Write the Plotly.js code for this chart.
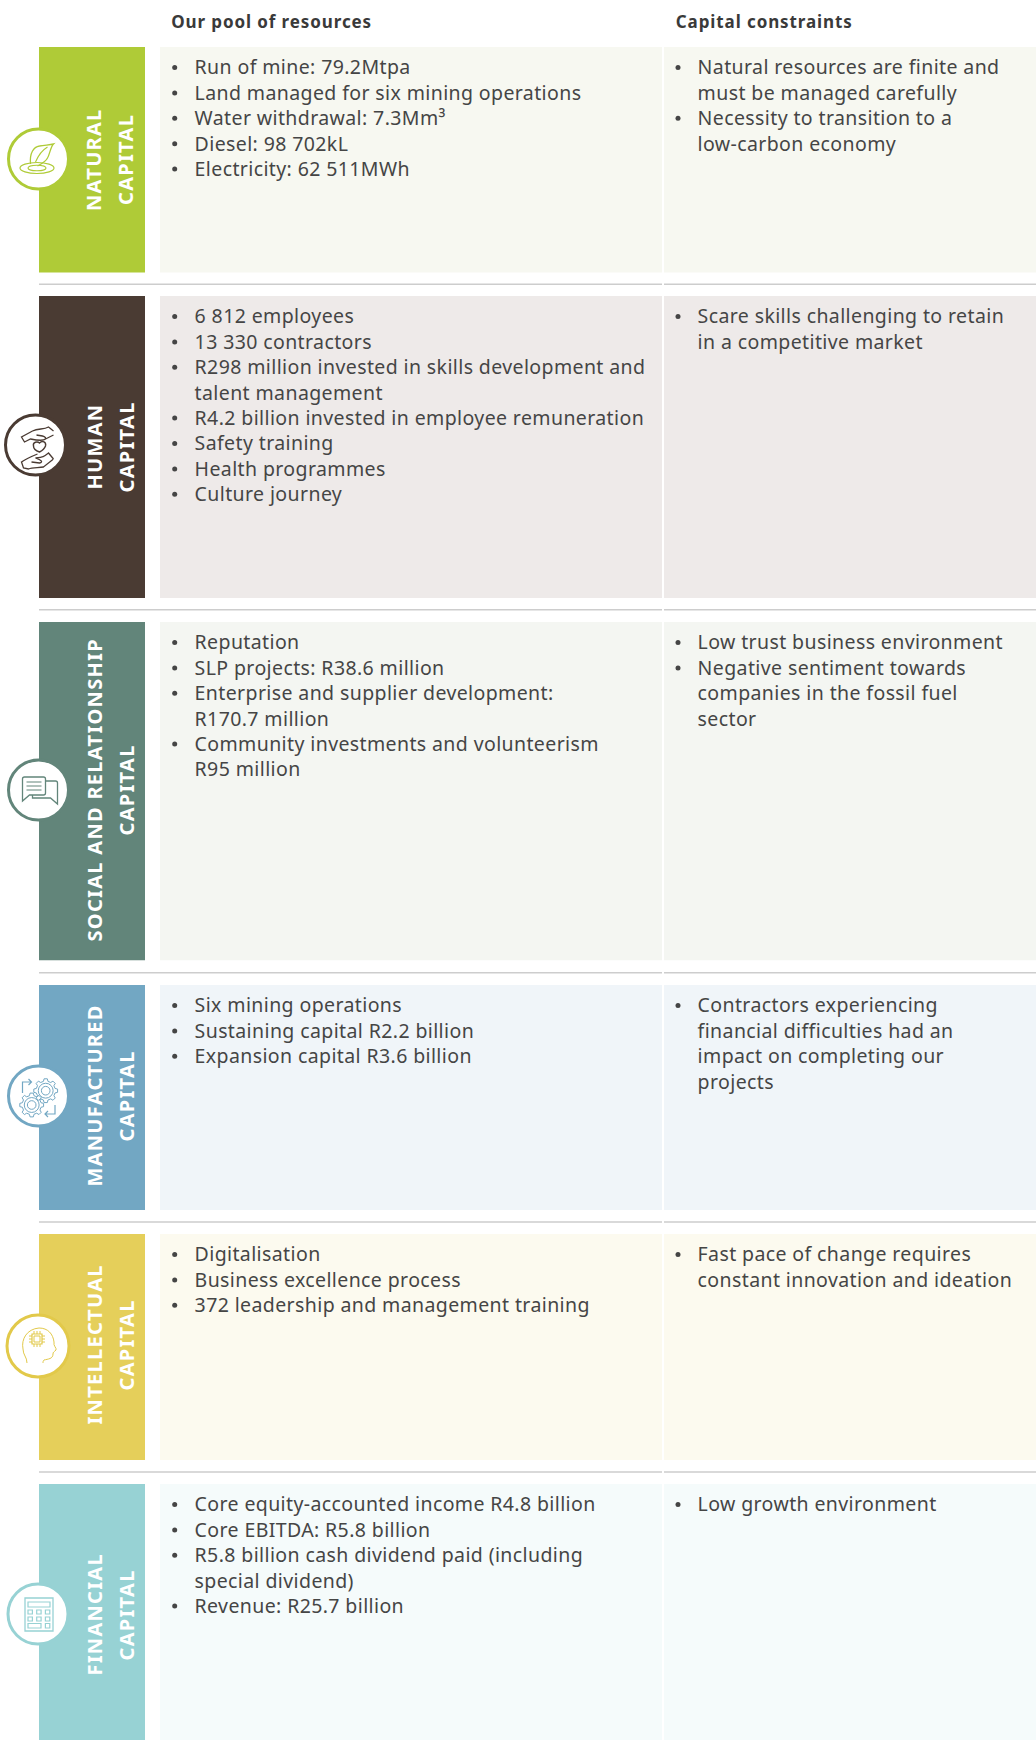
<!DOCTYPE html>
<html><head><meta charset="utf-8">
<script src="https://cdn.plot.ly/plotly-3.0.1.min.js"></script>
<style>
html,body{margin:0;padding:0;background:#fff;overflow:hidden}
#chart{width:1036px;height:1740px}
.textpoint text{letter-spacing:0.39px}
.annotation-text{letter-spacing:1.3px}
.annotation[data-index="0"] .annotation-text,.annotation[data-index="1"] .annotation-text{letter-spacing:0.9px}
</style></head><body><div id="chart"></div>
<script>
const capitalNames = ["NATURAL","HUMAN","SOCIAL AND RELATIONSHIP","MANUFACTURED","INTELLECTUAL","FINANCIAL"];
const capitalWord = "CAPITAL";
const columnHeads = ["Our pool of resources","Capital constraints"];
const naturalPool = ["Run of mine: 79.2Mtpa","Land managed for six mining operations","Water withdrawal: 7.3Mm³","Diesel: 98 702kL","Electricity: 62 511MWh"];
const naturalLimits = ["Natural resources are finite and|must be managed carefully","Necessity to transition to a|low-carbon economy"];
const humanPool = ["6 812 employees","13 330 contractors","R298 million invested in skills development and|talent management","R4.2 billion invested in employee remuneration","Safety training","Health programmes","Culture journey"];
const humanLimits = ["Scare skills challenging to retain|in a competitive market"];
const socialPool = ["Reputation","SLP projects: R38.6 million","Enterprise and supplier development:|R170.7 million","Community investments and volunteerism|R95 million"];
const socialLimits = ["Low trust business environment","Negative sentiment towards|companies in the fossil fuel|sector"];
const manufacturedPool = ["Six mining operations","Sustaining capital R2.2 billion","Expansion capital R3.6 billion"];
const manufacturedLimits = ["Contractors experiencing|financial difficulties had an|impact on completing our|projects"];
const intellectualPool = ["Digitalisation","Business excellence process","372 leadership and management training"];
const intellectualLimits = ["Fast pace of change requires|constant innovation and ideation"];
const financialPool = ["Core equity-accounted income R4.8 billion","Core EBITDA: R5.8 billion","R5.8 billion cash dividend paid (including|special dividend)","Revenue: R25.7 billion"];
const financialLimits = ["Low growth environment"];

const pools = [naturalPool,humanPool,socialPool,manufacturedPool,intellectualPool,financialPool];
const limits = [naturalLimits,humanLimits,socialLimits,manufacturedLimits,intellectualLimits,financialLimits];

// Layout (page geometry, separate from the data)
const W = 1036, H = 1740;
const rowTop = [47,296,622,985,1234,1484];
const rowBot = [272.5,598,960.3,1210,1460,1740];
const sepY = [284.3,609.7,972.7,1222,1472];
const band = ["#AFCB37","#4A3B33","#62857A","#72A7C3","#E5CF5A","#97D2D4"];
const panel = ["#F7F8F1","#EEEAE9","#F4F6F2","#F0F5F9","#FCFAEF","#F5FBFB"];
const ring = ["#AFCB37","#4A3B33","#62857A","#72A7C3","#E2C94A","#97D2D4"];
const iconC = [[38.5,159,30],[35.5,445,30],[38.5,790,30],[38.5,1096,30],[38,1346,31],[38,1614,30]];
const labelC = [159.5,447,790,1096,1345,1615];
const ink = "#454545", lineH = 25.4, textFont = "Noto Sans";

const shapes = [];
function rect(x0,x1,y0,y1,c){shapes.push({type:'rect',xref:'x',yref:'y',x0,x1,y0,y1,fillcolor:c,line:{width:0},layer:'below'});}
band.forEach((c,i)=>{
  rect(39,145,rowTop[i],rowBot[i],c);
  rect(160,662,rowTop[i],rowBot[i],panel[i]);
  rect(664,W,rowTop[i],rowBot[i],panel[i]);
});
sepY.forEach(y=>{rect(39,662,y-0.8,y+0.8,"#CDCDCD");rect(664,W,y-0.8,y+0.8,"#CDCDCD");});

// Icon helpers
function shift(d,cx,cy){let k=0;return d.replace(/-?\d+(\.\d+)?/g,m=>{const v=parseFloat(m)+(k++%2?cy:cx);return v.toFixed(2);});}
function icPath(i,d,w,fill){const [cx,cy]=iconC[i];shapes.push({type:'path',xref:'x',yref:'y',path:shift(d,cx,cy),line:{color:ring[i],width:w||1.2},fillcolor:fill||'rgba(0,0,0,0)',layer:'above'});}
function icEll(i,dx,dy,rx,ry,w){const [cx,cy]=iconC[i];shapes.push({type:'circle',xref:'x',yref:'y',x0:cx+dx-rx,x1:cx+dx+rx,y0:cy+dy-ry,y1:cy+dy+ry,line:{color:ring[i],width:w||1.2},fillcolor:'rgba(0,0,0,0)',layer:'above'});}
function icRect(i,x0,y0,x1,y1,w){icPath(i,`M ${x0} ${y0} L ${x1} ${y0} L ${x1} ${y1} L ${x0} ${y1} Z`,w);}
function gear(i,gx,gy,r){
  const n=8;let d='';
  for(let t=0;t<n;t++){const a=t/n*2*Math.PI,s=0.17;
    const pts=[[a-s*1.4,r*0.8],[a-s*0.8,r],[a+s*0.8,r],[a+s*1.4,r*0.8]];
    pts.forEach((p,j)=>{const X=gx+p[1]*Math.cos(p[0]),Y=gy+p[1]*Math.sin(p[0]);d+=(t==0&&j==0?'M ':'L ')+X.toFixed(2)+' '+Y.toFixed(2)+' ';});}
  icPath(i,d+'Z',1);icEll(i,gx,gy,r*0.62,r*0.62,1);icEll(i,gx,gy,r*0.36,r*0.36,1);
}
iconC.forEach((c,i)=>{shapes.push({type:'circle',xref:'x',yref:'y',x0:c[0]-c[2],x1:c[0]+c[2],y0:c[1]-c[2],y1:c[1]+c[2],fillcolor:'#fff',line:{color:ring[i],width:3},layer:'above'});});
// natural: leaf and ripples
icPath(0,"M -8 5 C -9 -6 -5 -12 1 -13 C 6 -14 11 -14 15 -15 C 12 -12 11 -4 9 -1 C 7 3 3 5 -1 7",1.3);
icPath(0,"M -3 3 C 0 -4 4 -9 9 -12",1.1);
icEll(0,-1.5,9,17,5.5,1.2);icEll(0,-1.5,9,9,2.8,1.1);
// human: hands and heart
icPath(1,"M 18 -14 L 13 -18 C 8 -15 3 -17 -3 -14 L -14 -8 L -11 -3 L -5 -6 C 0 -5 8 -4 10 -6 C 11 -9 6 -9 1 -10 M 10 -6 L 18 -10",1.3);
icPath(1,"M 18 14 L 13 8 C 8 12 8 12 0 13 C 6 15 8 17 4 18 L -4 17 M 18 14 L 8 22 C 3 23 -3 22 -7 24 L -12 23 L -14 17 C -8 13 -3 11 2 9",1.3);
icPath(1,"M 4 -2 C 7 -5 11 -3 10 1 C 9 4 6 6 4 7 C 1 6 -2 4 -2 1 C -3 -3 2 -4 4 -2 Z",1.4);
// social: speech bubbles
icPath(2,"M -14 -13 L 5 -13 C 6.5 -13 7 -12 7 -11 L 7 3 C 7 4.5 6 5 5 5 L -9 5 L -16 11 L -16 -11 C -16 -12 -15 -13 -14 -13 Z",1.3);
icPath(2,"M 7 -9 L 17 -9 C 18.5 -9 19 -8 19 -7 L 19 14 L 12 8 L -6 8 L -6 5",1.3);
icPath(2,"M -12 -8 L 3 -8 M -12 -4 L 3 -4 M -12 0 L 3 0",1.2);
// manufactured: gears and arrows
gear(3,7.2,-5.3,12);gear(3,-6.8,9,12);
icPath(3,"M -16 -3 L -16 -14 L -7 -14 M -10 -17 L -7 -14 L -10 -11",1.2);
icPath(3,"M 16.5 9 L 16.5 18 L 6.5 18 M 9.5 15 L 6.5 18 L 9.5 21",1.2);
// intellectual: head and chip
icPath(4,"M -11 17 C -11 11 -15 9 -15 3 C -17 -7 -11 -17 1 -18 C 10 -18 15 -12 16 -4 C 15 0 19 2 18 4 C 16 6 15 6 15 8 C 15 13 10 13 6 14 C 5 15 5 16 5 17",1);
icRect(4,-6,-12,4,-2,1.2);icRect(4,-4,-10,2,-4,1);
icPath(4,"M -9 -10 L -6 -10 M -9 -7 L -6 -7 M -9 -4 L -6 -4 M 4 -10 L 7 -10 M 4 -7 L 7 -7 M 4 -4 L 7 -4 M -4 -15 L -4 -12 M -1 -15 L -1 -12 M 2 -15 L 2 -12 M -4 -2 L -4 1 M -1 -2 L -1 1 M 2 -2 L 2 1",1);
// financial: calculator
icRect(5,-13,-16,15,17,1.3);icRect(5,-10,-12,12,-7,1.2);
[[-10,-4],[-1.3,-4],[7.4,-4],[-10,3],[-1.3,3],[7.4,3]].forEach(p=>icRect(5,p[0],p[1],p[0]+4.4,p[1]+4,1.2));
icRect(5,-10,9.5,3,14,1.2);icRect(5,7.4,9.5,11.8,14,1.2);

// Bullets and text
const tx=[],ty=[],tt=[],bx=[],by=[];
function col(items,top,xb,xt){
  let y=top+22.5;
  items.forEach(it=>{
    bx.push(xb);by.push(y-2);
    it.split('|').forEach(l=>{tx.push(xt);ty.push(y);tt.push(l);y+=lineH;});
  });
}
pools.forEach((p,i)=>col(p,rowTop[i],174.7,194.6));
limits.forEach((p,i)=>col(p,rowTop[i],678,697.6));

const traces=[
 {type:'scatter',mode:'markers',x:bx,y:by,marker:{size:5,color:ink},hoverinfo:'skip',showlegend:false},
 {type:'scatter',mode:'text',x:tx,y:ty,text:tt,textposition:'middle right',textfont:{family:textFont,size:19.5,color:ink},hoverinfo:'skip',showlegend:false}
];

const annotations=[];
function note(x,y,t,o){annotations.push(Object.assign({xref:'x',yref:'y',x,y,text:t,showarrow:false},o));}
columnHeads.forEach((h,i)=>note([271.8,764.8][i],21,h,{xanchor:'center',yanchor:'middle',font:{family:textFont,size:17,weight:700,color:"#3a3a3a"}}));
capitalNames.forEach((n,i)=>{
  note(93.5,labelC[i],n,{textangle:-90,xanchor:'center',yanchor:'middle',font:{family:textFont,size:20,weight:700,color:'#fff'}});
  note(125.5,labelC[i],capitalWord,{textangle:-90,xanchor:'center',yanchor:'middle',font:{family:textFont,size:20,weight:700,color:'#fff'}});
});

const layout={width:W,height:H,margin:{l:0,r:0,t:0,b:0},paper_bgcolor:'#fff',plot_bgcolor:'#fff',showlegend:false,
 xaxis:{range:[0,W],visible:false,fixedrange:true},yaxis:{range:[H,0],visible:false,fixedrange:true},
 shapes,annotations};
Plotly.newPlot('chart',traces,layout,{staticPlot:true,displayModeBar:false});
</script></body></html>
